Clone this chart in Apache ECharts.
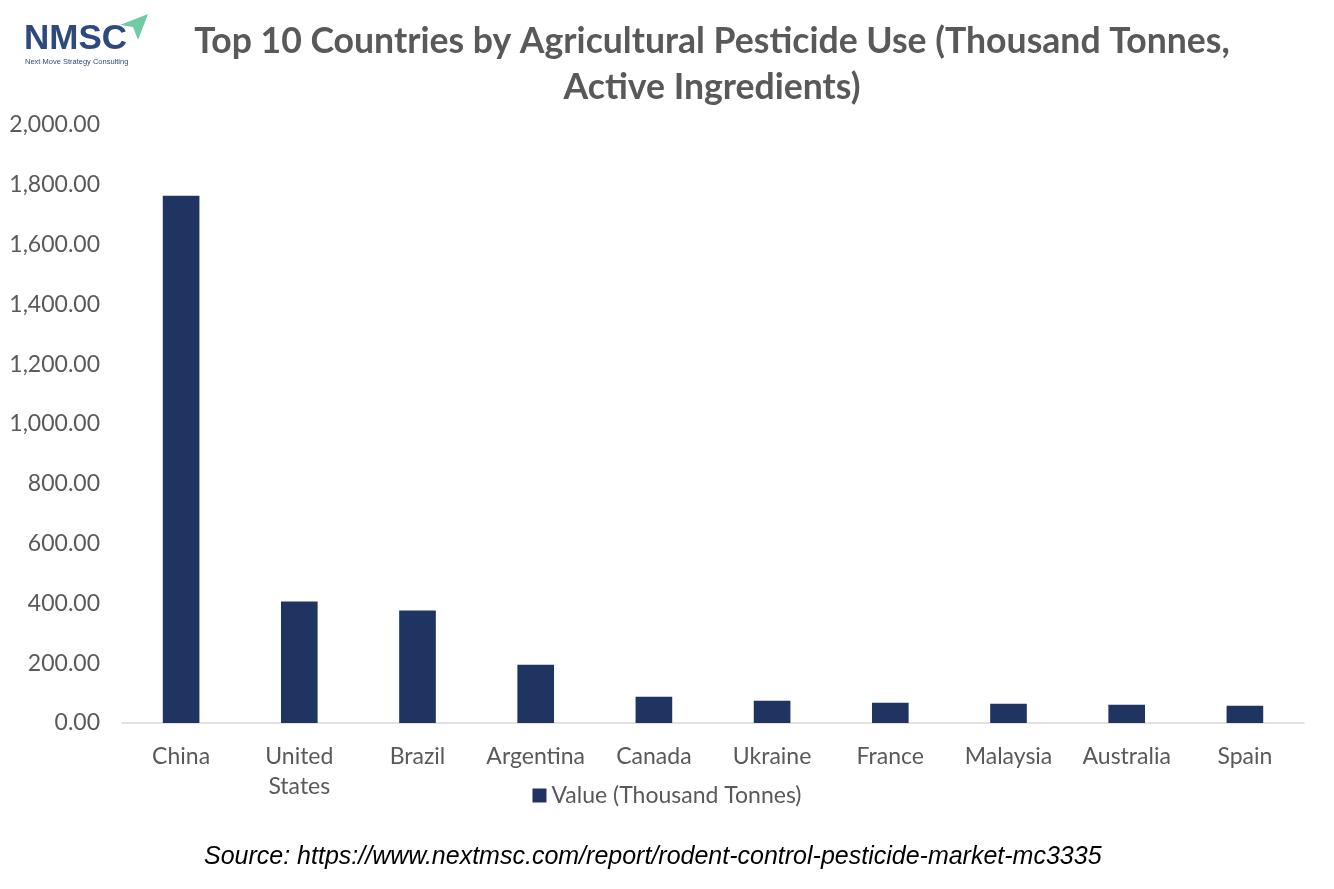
<!DOCTYPE html>
<html>
<head>
<meta charset="utf-8">
<script src="https://cdn.jsdelivr.net/npm/echarts@6/dist/echarts.min.js"></script>
<style>
html,body{margin:0;padding:0;background:#fff;}
#chart{width:1334px;height:889px;}
</style>
</head>
<body>
<div id="chart"></div>
<script>
var categories = ["China", "United\nStates", "Brazil", "Argentina", "Canada", "Ukraine", "France", "Malaysia", "Australia", "Spain"];
var values = [1763, 406, 376, 195, 88, 74, 68, 64, 61, 58];
var seriesName = "Value (Thousand Tonnes)";
var yTicks = { min: 0, max: 2000, interval: 200 };

var chart = echarts.init(document.getElementById('chart'));
var textColor = '#595959';
var font = 'Lato, "Open Sans", sans-serif';
chart.setOption({
  backgroundColor: '#ffffff',
  animation: false,
  title: {
    text: 'Top 10 Countries by Agricultural Pesticide Use (Thousand Tonnes,\nActive Ingredients)',
    left: 707,
    top: 14,
    textAlign: 'center',
    textStyle: { fontFamily: font, fontSize: 35.6, fontWeight: 'bold', color: textColor, lineHeight: 46 }
  },
  legend: {
    data: [seriesName],
    top: 779,
    left: 'center',
    itemWidth: 14,
    itemHeight: 14,
    icon: 'rect',
    itemGap: 6,
    textStyle: { fontFamily: font, fontSize: 23, color: textColor }
  },
  grid: { left: 122, right: 30, top: 125, bottom: 166, containLabel: false },
  xAxis: {
    type: 'category',
    data: categories,
    axisLine: { lineStyle: { color: '#d9d9d9', width: 1.5 } },
    axisTick: { show: false },
    axisLabel: { fontFamily: font, fontSize: 23, color: textColor, margin: 19, lineHeight: 30, interval: 0 }
  },
  yAxis: {
    type: 'value',
    min: yTicks.min,
    max: yTicks.max,
    interval: yTicks.interval,
    axisLine: { show: false },
    axisTick: { show: false },
    splitLine: { show: false },
    axisLabel: {
      fontFamily: font, fontSize: 23, color: textColor, margin: 22,
      formatter: function (v) { return v.toLocaleString('en-US', { minimumFractionDigits: 2, maximumFractionDigits: 2 }); }
    }
  },
  series: [{
    name: seriesName,
    type: 'bar',
    data: values,
    barWidth: '31%',
    itemStyle: { color: '#1F3460' }
  }],
  graphic: [
    { type: 'text', left: 24, top: 22, style: { text: 'NMSC', font: 'bold 35px "Liberation Sans", Arial, sans-serif', fill: '#2E4A7D', letterSpacing: 1 } },
    { type: 'text', left: 25, top: 58, style: { text: 'Next Move Strategy Consulting', font: '7.5px "Liberation Sans", sans-serif', fill: '#2E4A7D' } },
    { type: 'polygon', shape: { points: [[120, 25], [148, 14], [138, 40], [133, 27]] }, style: { fill: '#6ECBA4' } },
    { type: 'text', left: 204, top: 845, style: { text: 'Source: https://www.nextmsc.com/report/rodent-control-pesticide-market-mc3335', font: 'italic 25px "Liberation Sans", Arial, sans-serif', fill: '#000000' } }
  ]
});
</script>
</body>
</html>
